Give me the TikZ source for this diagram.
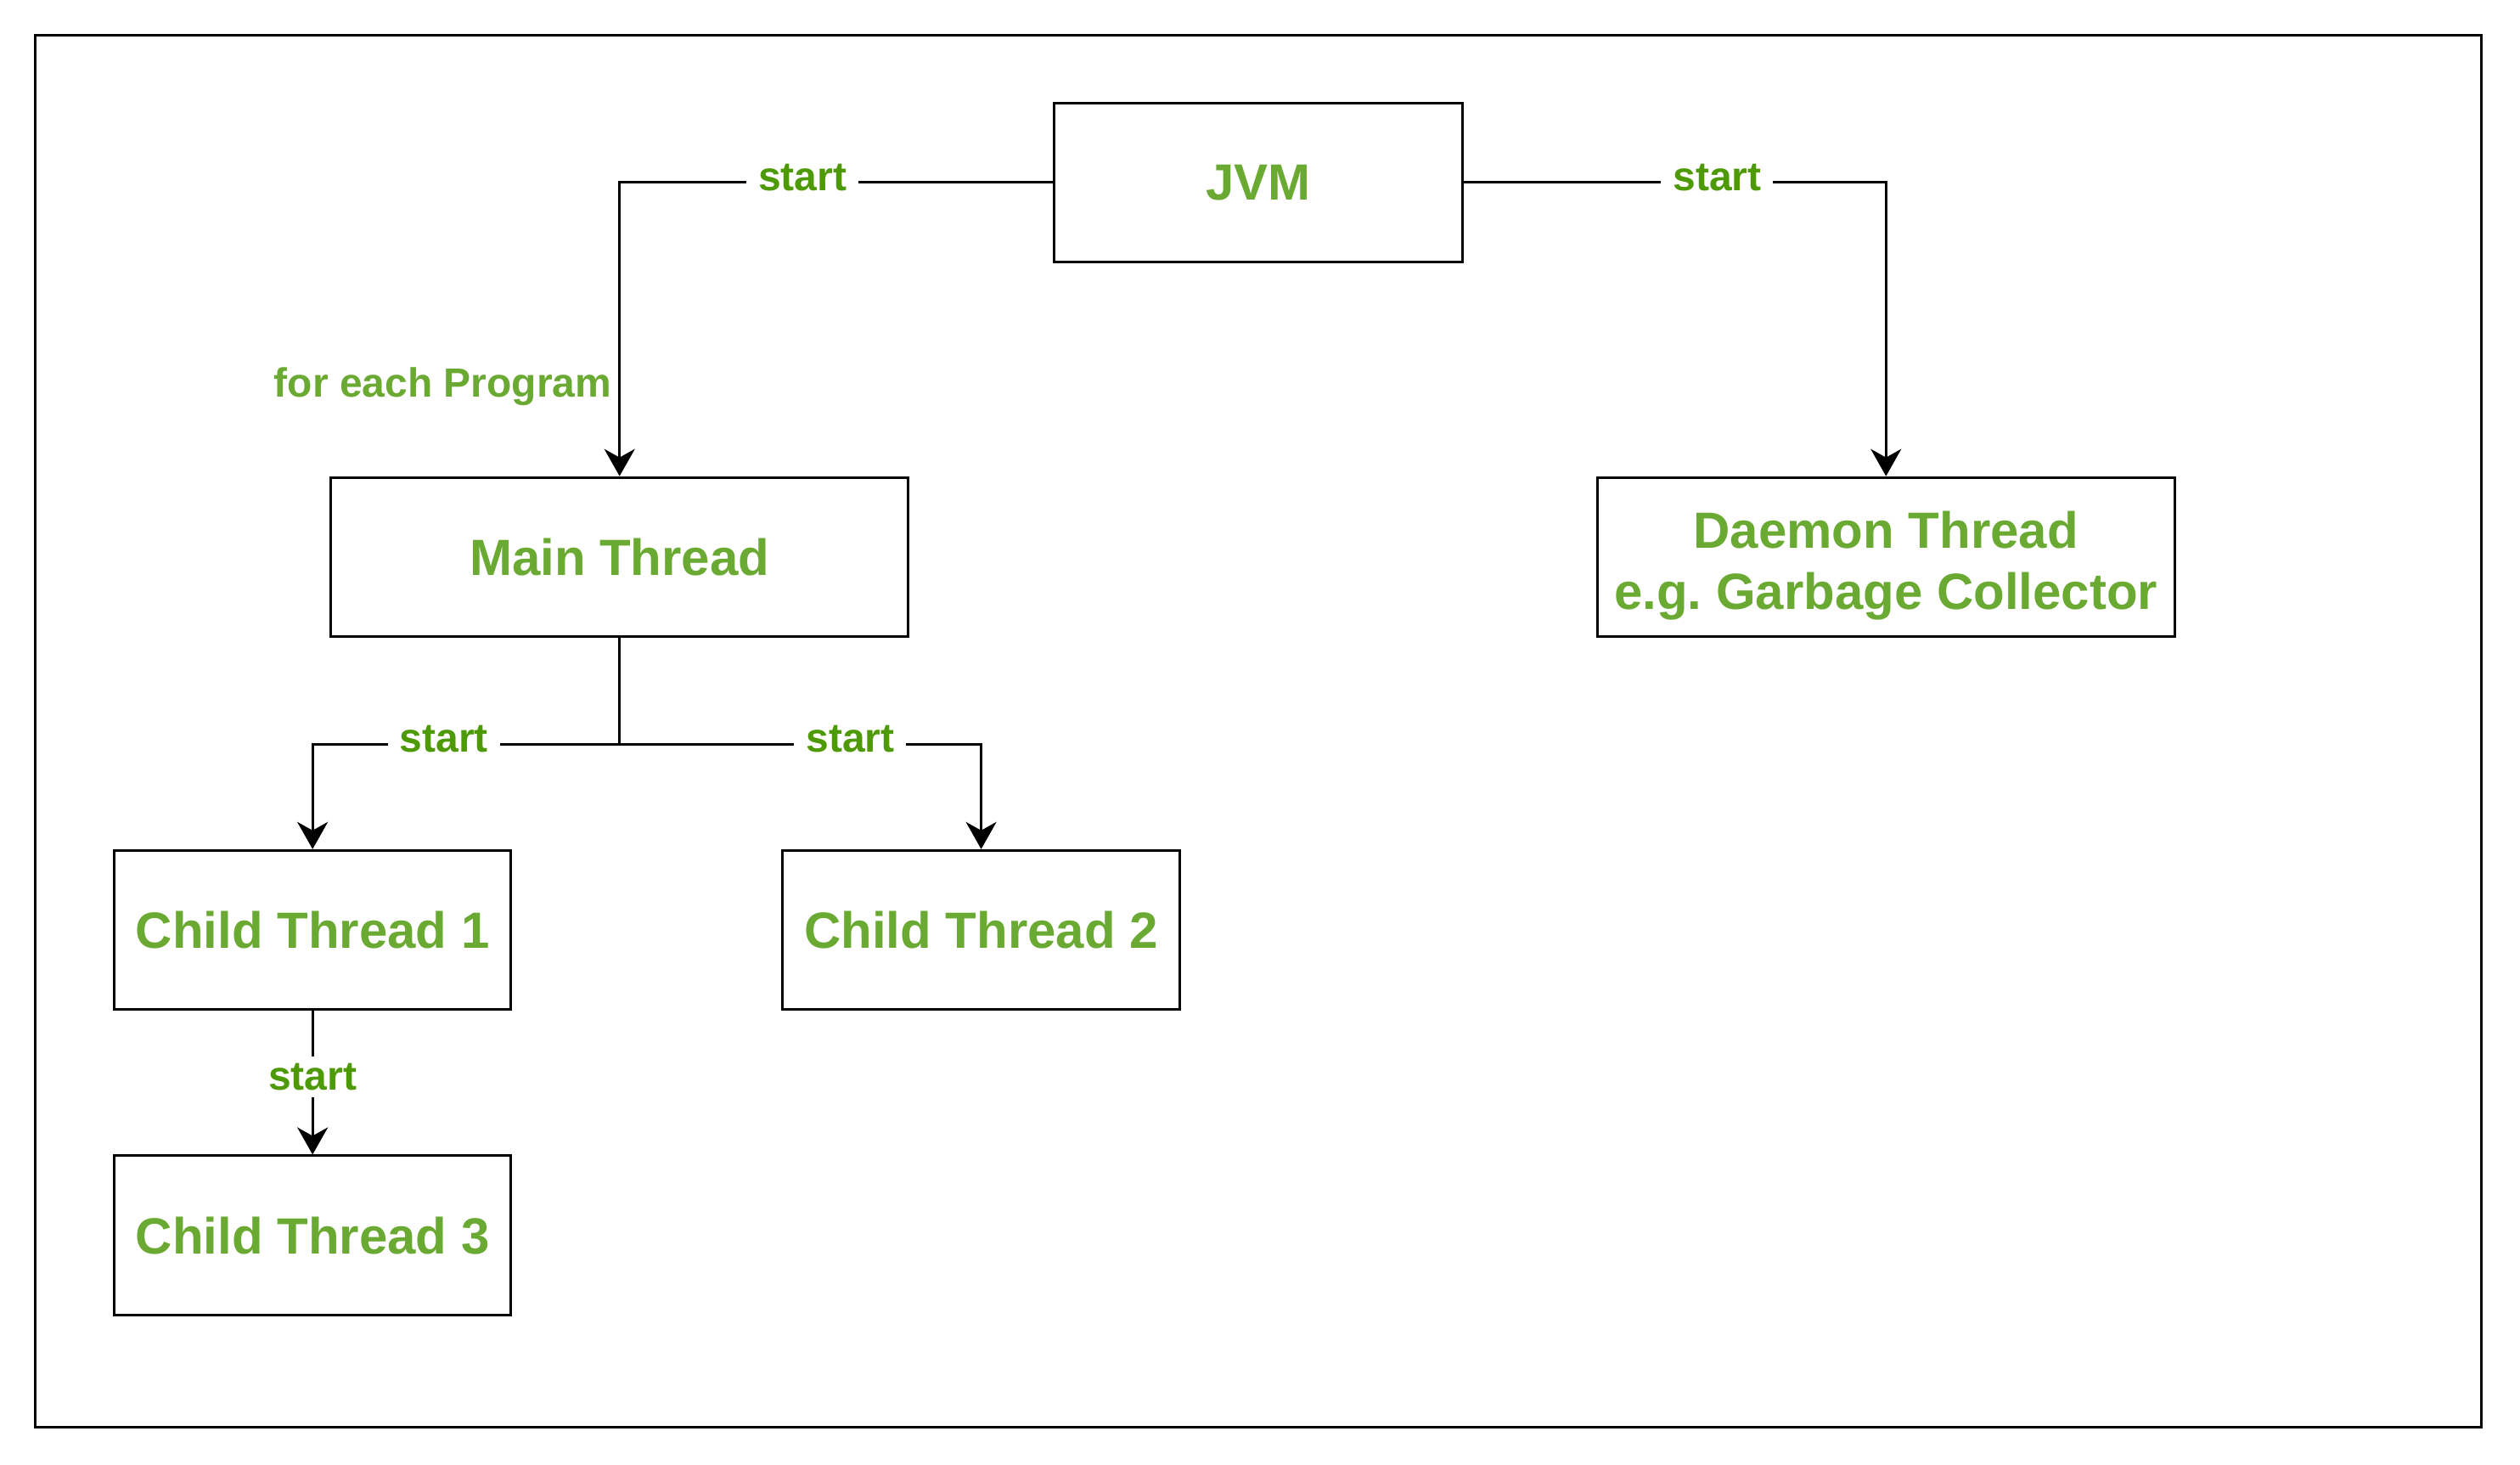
\documentclass[tikz,border=0pt]{standalone}
\usepackage{fontspec}
\setmainfont{Liberation Sans}
\usetikzlibrary{arrows.meta}
\definecolor{boxgreen}{HTML}{6AAA33}
\definecolor{lblgreen}{HTML}{4D9A06}
\frenchspacing
\begin{document}
\begin{tikzpicture}[x=0.9465pt,y=-0.9465pt,
  box/.style={draw=black,line width=1.5pt,fill=white,minimum height=93.7pt,
    font=\fontsize{30pt}{36pt}\selectfont\bfseries,text=boxgreen,align=center,inner sep=0pt},
  conn/.style={draw=black,line width=1.5pt,-{Stealth[length=16pt,width=18pt,inset=5pt]}},
  plain/.style={draw=black,line width=1.5pt},
  lbl/.style={fill=white,font=\fontsize{24pt}{28pt}\selectfont\bfseries,text=lblgreen,inner xsep=7pt,inner ysep=1pt}]
\useasboundingbox (0,0) rectangle (1568,911);
\fill[white] (0,0) rectangle (1568,911);
\draw[line width=1.5pt] (22,22) rectangle (1544,888);
\node[box,minimum width=240.4pt] (jvm) at (783,113.5) {\raisebox{-2pt}{JVM}};
\node[box,minimum width=339.8pt] (main) at (385.5,346.5) {\raisebox{-1.5pt}{Main Thread}};
\node[box,minimum width=339.8pt,
  label={[align=center,yshift=-5pt,font=\fontsize{30pt}{36pt}\selectfont\bfseries,text=boxgreen]center:{Daemon Thread\\e.g. Garbage Collector}}] (daemon) at (1173.5,346.5) {};
\node[box,minimum width=233.8pt] (c1) at (194.5,578.5) {\raisebox{-2pt}{Child Thread 1}};
\node[box,minimum width=233.8pt] (c2) at (610.5,578.5) {\raisebox{-2pt}{Child Thread 2}};
\node[box,minimum width=233.8pt] (c3) at (194.5,768.5) {\raisebox{-2pt}{Child Thread 3}};
\coordinate (split) at (385.5,463);
\draw[conn] (jvm.west) -| node[lbl,pos=0.289,yshift=3pt] (l1) {start}
  node[pos=0.839,anchor=east,xshift=-4pt,yshift=-3pt,font=\fontsize{24pt}{28pt}\selectfont\bfseries,text=boxgreen,inner sep=0pt] (l2) {for each Program} (main.north);
\draw[conn] (jvm.east) -| node[lbl,pos=0.3,yshift=3pt] (l3) {start} (daemon.north);
\draw[plain] (main.south) -- (split);
\draw[conn] (split) -| node[lbl,pos=0.286,yshift=3pt] (l4) {start} (c1.north);
\draw[conn] (split) -| node[lbl,pos=0.319,yshift=3pt] (l5) {start} (c2.north);
\draw[conn] (c1.south) -- node[lbl,pos=0.45,inner xsep=2pt,inner ysep=4pt,yshift=-1pt] (l6) {start} (c3.north);
\end{tikzpicture}
\end{document}
